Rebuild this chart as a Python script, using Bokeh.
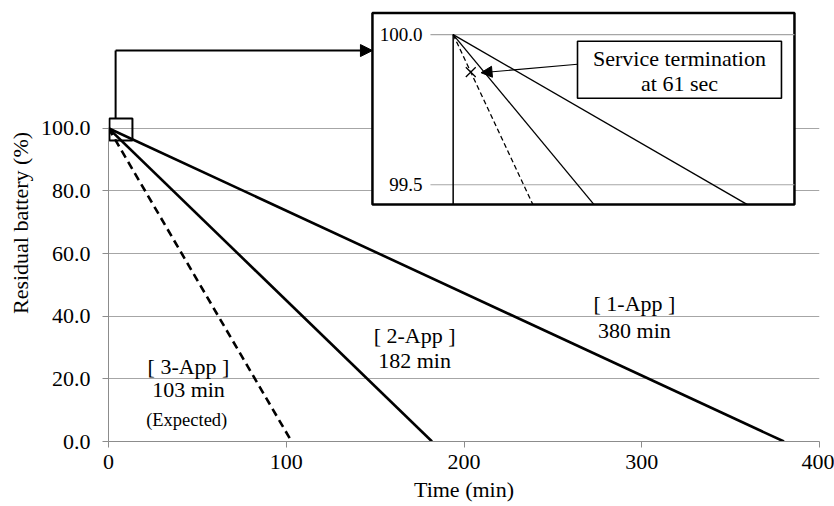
from bokeh.plotting import figure
from bokeh.models import Range1d, FixedTicker, NumeralTickFormatter, Arrow, NormalHead
from bokeh.core.properties import value
from bokeh.embed import file_html
from bokeh.resources import INLINE

# ---------------- data ----------------
apps = ["1-App", "2-App", "3-App"]
durations_min = [380, 182, 103]
is_expected = [False, False, True]
start_level = 100.0
end_level = 0.0
x_ticks = [0, 100, 200, 300, 400]
y_ticks = [0, 20, 40, 60, 80, 100]
inset_y_ticks = [99.5, 100.0]
inset_low = 99.434          # lowest battery level shown in the zoomed inset
termination_level = 99.875  # level where the 3-App service ends (cross mark)
callout_lines = ["Service termination", "at 61 sec"]

# ---------------- layout constants ----------------
FONT_NAME = "Liberation Serif"
FONT = value(FONT_NAME)
X_MIN, X_MAX = 0, 400
Y_TOP = 139.5
INSET_AXIS_X = 193.9   # main-x where inset time 0 lies
INSET_TOP_Y = 129.9    # main-y where inset level 100 lies
T_SCALE = 76.96        # main-x units per inset minute
V_SCALE = 95.88        # main-y units per inset percent

p = figure(width=834, height=506, x_range=Range1d(X_MIN, X_MAX), y_range=Range1d(0, Y_TOP),
           output_backend="svg", toolbar_location=None,
           min_border_left=108, min_border_right=15, min_border_top=4, min_border_bottom=65)
p.outline_line_color = None
p.background_fill_color = "white"
p.border_fill_color = "white"
p.xgrid.visible = False
p.ygrid.grid_line_color = "#a6a6a6"
p.ygrid.grid_line_width = 1

p.extra_x_ranges = {"ix": Range1d((X_MIN - INSET_AXIS_X) / T_SCALE, (X_MAX - INSET_AXIS_X) / T_SCALE)}
p.extra_y_ranges = {"iy": Range1d(100 + (0 - INSET_TOP_Y) / V_SCALE, 100 + (Y_TOP - INSET_TOP_Y) / V_SCALE)}

# axes
p.xaxis.ticker = FixedTicker(ticks=x_ticks)
p.yaxis.ticker = FixedTicker(ticks=y_ticks)
p.yaxis.formatter = NumeralTickFormatter(format="0.0")
p.yaxis.bounds = (0, 100)
for ax in (p.xaxis[0], p.yaxis[0]):
    ax.axis_line_color = "#8c8c8c"
    ax.major_tick_line_color = "#8c8c8c"
    ax.major_tick_out = 6
    ax.major_tick_in = 0
    ax.minor_tick_out = 0
    ax.minor_tick_in = 0
    ax.major_label_text_font = FONT_NAME
    ax.major_label_text_font_size = "22px"
    ax.major_label_text_color = "black"
    ax.axis_label_text_font = FONT_NAME
    ax.axis_label_text_font_size = "22px"
    ax.axis_label_text_font_style = "normal"
    ax.axis_label_text_color = "black"
p.xaxis.axis_label = "Time (min)"
p.yaxis.axis_label = "Residual battery (%)"
p.xaxis.major_label_standoff = 7
p.xaxis.axis_label_standoff = 5
p.yaxis.major_label_standoff = 12
p.yaxis.axis_label_standoff = 5

# main discharge lines
for app, dur, exp in zip(apps, durations_min, is_expected):
    p.line([0, dur], [start_level, end_level], line_color="black", line_width=2.6,
           line_dash="8 5" if exp else "solid")

# main labels (centre x, y of first line, y of second line)
label_pos = {"1-App": (295.9, 44.0, 35.4), "2-App": (172.2, 33.8, 25.9), "3-App": (45.0, 23.9, 16.6)}
lx, ly, lt = [], [], []
for app, dur in zip(apps, durations_min):
    x, y1, y2 = label_pos[app]
    lx += [x, x]
    ly += [y1, y2]
    lt += [f"[ {app} ]", f"{dur} min"]
p.text(x=lx, y=ly, text=lt, text_font=FONT, text_font_size="22px", text_align="center",
       text_baseline="middle", text_color="black")
p.text(x=[44.0], y=[7.0], text=["(Expected)"], text_font=FONT, text_font_size="18.5px",
       text_align="center", text_baseline="middle", text_color="black")

# zoom marker square (kept inside the frame so it is not clipped) and connector
p.rect(x=[7.0], y=[99.6], width=23, height=22, width_units="screen", height_units="screen",
       fill_color=None, line_color="black", line_width=2)
box_left, box_right, box_bottom, box_top = -0.59, 2.495, inset_low, 100.072
conn_x = 4.0
conn_y = 124.8
p.line([conn_x, conn_x], [103.1, conn_y], line_color="black", line_width=2)
p.add_layout(Arrow(x_start=conn_x, y_start=conn_y,
                   x_end=INSET_AXIS_X + box_left * T_SCALE, y_end=conn_y,
                   line_color="black", line_width=2,
                   end=NormalHead(size=12, fill_color="black", line_color="black")))

# ---------------- inset ----------------
R = dict(x_range_name="ix", y_range_name="iy")
p.quad(left=[box_left], right=[box_right], bottom=[box_bottom], top=[box_top],
       fill_color="white", line_color="black", line_width=2.5, **R)
p.segment(x0=[-0.166] * len(inset_y_ticks), x1=[box_right] * len(inset_y_ticks),
          y0=inset_y_ticks, y1=inset_y_ticks, line_color="#a6a6a6", line_width=1.2, **R)
p.segment(x0=[0], y0=[inset_low], x1=[0], y1=[start_level], line_color="black", line_width=1.5, **R)
p.text(x=[-0.224] * len(inset_y_ticks), y=inset_y_ticks, text=[f"{v:.1f}" for v in inset_y_ticks],
       text_font=FONT, text_font_size="19px", text_align="right", text_baseline="middle",
       text_color="black", **R)
for dur, exp in zip(durations_min, is_expected):
    t_end = (start_level - inset_low) * dur / (start_level - end_level)
    p.line([0, t_end], [start_level, inset_low], line_color="black", line_width=1.3,
           line_dash="5 3" if exp else "solid", **R)
# termination cross on the 3-App line
dur3 = durations_min[2]
t_term = (start_level - termination_level) * dur3 / (start_level - end_level)
p.scatter(x=[t_term], y=[termination_level], marker="x", size=14, line_color="black", line_width=1.3, **R)
# callout box
cb_l, cb_r, cb_b, cb_t = 0.909, 2.40, 99.788, 99.978
p.quad(left=[cb_l], right=[cb_r], bottom=[cb_b], top=[cb_t], fill_color="white",
       line_color="black", line_width=1.6, **R)
p.text(x=[(cb_l + cb_r) / 2] * 2, y=[99.921, 99.838], text=callout_lines, text_font=FONT,
       text_font_size="22px", text_align="center", text_baseline="middle", text_color="black", **R)
p.add_layout(Arrow(x_start=cb_l, y_start=99.901, x_end=t_term + 0.075, y_end=99.873,
                   line_color="black", line_width=1.1,
                   end=NormalHead(size=11, fill_color="black", line_color="black"), **R))

open("out.html", "w").write(file_html(p, INLINE))
